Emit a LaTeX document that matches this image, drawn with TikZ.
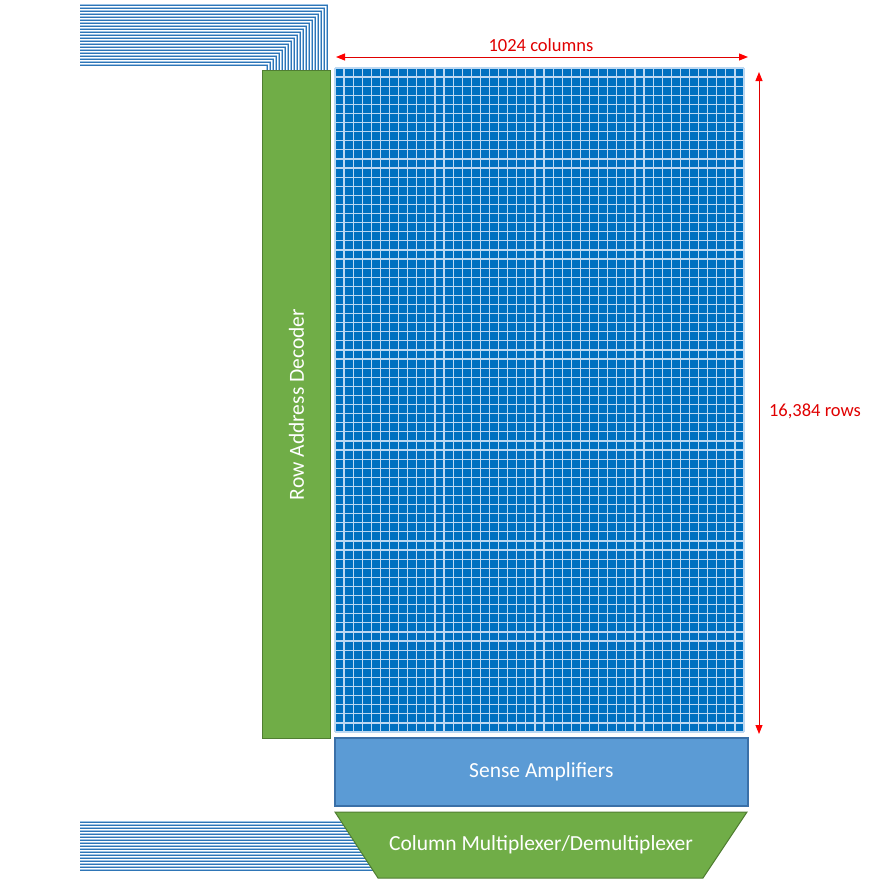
\documentclass[tikz,border=0pt]{standalone}
\usepackage{fontspec}
\setmainfont{Carlito}
\usetikzlibrary{arrows.meta}
\definecolor{cellblue}{HTML}{0070C0}
\definecolor{gridline}{HTML}{BCD8F2}
\definecolor{decgreen}{HTML}{70AD47}
\definecolor{decborder}{HTML}{507E32}
\definecolor{sabl}{HTML}{5B9BD5}
\definecolor{saborder}{HTML}{3A70A8}
\definecolor{wireA}{HTML}{9DC3E6}
\definecolor{wireB}{HTML}{2E75B6}
\definecolor{dimred}{HTML}{E00000}
\tikzset{
  wire/.style={line width=1.5pt, wireA},
  wirecore/.style={line width=0.6pt, wireB},
  greenbox/.style={fill=decgreen, draw=decborder, line width=1pt},
  bluebox/.style={fill=sabl, draw=saborder, line width=1.6pt},
  dim/.style={draw=dimred, line width=1pt, {Triangle[length=9pt,width=7pt,fill=red,color=red]}-{Triangle[length=9pt,width=7pt,fill=red,color=red]}},
  dimlabel/.style={text=dimred, font=\fontsize{18.5}{22}\selectfont},
  boxlabel/.style={text=white, font=\fontsize{21.5}{25}\selectfont},
}
\begin{document}
\begin{tikzpicture}[x=1pt,y=-1pt]
\useasboundingbox (0,0) rectangle (873,894);
% top-left address wires
\foreach \i in {0,...,20} {
  \pgfmathsetmacro{\yy}{5+3*\i}
  \pgfmathsetmacro{\xx}{327-3*\i}
  \draw[wire] (80,\yy) -- (\xx,\yy) -- (\xx,71);
}
\foreach \i in {0,...,20} {
  \pgfmathsetmacro{\yy}{5+3*\i}
  \pgfmathsetmacro{\xx}{327-3*\i}
  \draw[wirecore] (80,\yy) -- (\xx,\yy) -- (\xx,71);
}
% bottom-left data wires
\foreach \i in {0,...,16} {
  \pgfmathsetmacro{\yy}{822+3*\i}
  \pgfmathsetmacro{\xx}{335+(\yy-812)*(43/66)+4}
  \draw[wire] (80,\yy) -- (\xx,\yy);
  \draw[wirecore] (80,\yy) -- (\xx,\yy);
}
% row address decoder
\node[greenbox, minimum width=68pt, minimum height=668pt, anchor=north west, inner sep=0pt] (dec) at (262,70) {};
\node[boxlabel, rotate=90] (declabel) at (dec.center) {Row Address Decoder};
% memory cell array
\fill[cellblue] (335,68) rectangle (744,732);
\foreach \c in {0,...,45} {
  \pgfmathsetmacro{\xx}{335+\c*(409/45)}
  \draw[gridline, line width=1.2pt] (\xx,68) -- (\xx,732);
}
\foreach \r in {0,...,73} {
  \pgfmathsetmacro{\yy}{68+\r*(664/73)}
  \draw[gridline, line width=1.2pt] (335,\yy) -- (744,\yy);
}
\coordinate (arrTL) at (336,57);
\coordinate (arrTR) at (748,57);
\coordinate (arrVT) at (759,72);
\coordinate (arrVB) at (759,734);
% sense amplifiers
\node[bluebox, minimum width=413pt, minimum height=68pt, anchor=north west, inner sep=0pt] (sa) at (334,737) {};
\node[boxlabel] (salabel) at (sa.center) {Sense Amplifiers};
% column mux/demux
\draw[greenbox] (335,812) coordinate (mTL) -- (747,812) coordinate (mTR) -- (703,878) coordinate (mBR) -- (378,878) coordinate (mBL) -- cycle;
\node[boxlabel] (muxlabel) at (541,845) {Column Multiplexer/Demultiplexer};
% dimensions
\draw[dim] (arrTL) -- (arrTR);
\node[dimlabel] (collabel) at (541,45) {1024 columns};
\draw[dim] (arrVT) -- (arrVB);
\node[dimlabel] (rowlabel) at (815,411) {16,384 rows};
\end{tikzpicture}
\end{document}
